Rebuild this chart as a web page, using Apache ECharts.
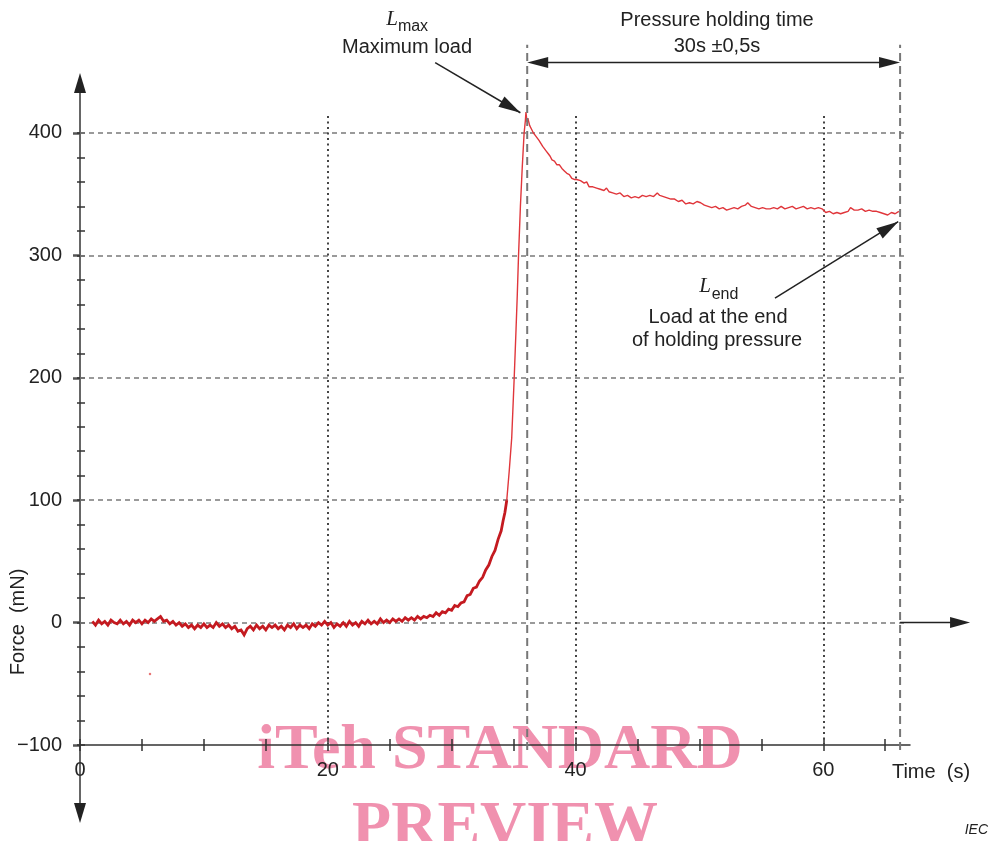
<!DOCTYPE html>
<html>
<head>
<meta charset="utf-8">
<script src="https://cdn.jsdelivr.net/npm/echarts@6/dist/echarts.min.js"></script>
<style>
html,body{margin:0;padding:0;background:#fff;}
#c{width:990px;height:841px;}
</style>
</head>
<body>
<div id="c"></div>
<script>
// ---- axis ticks / labels ----
const timeTicks = [0, 5, 10, 15, 20, 25, 30, 35, 40, 45, 50, 55, 60, 65];
const timeLabels = [0, 20, 40, 60];
const forceLabels = [-100, 0, 100, 200, 300, 400];
const forceMinorTicks = [-100, -80, -60, -40, -20, 0, 20, 40, 60, 80, 100, 120, 140, 160, 180, 200,
  220, 240, 260, 280, 300, 320, 340, 360, 380, 400];
const gridForce = [0, 100, 200, 300, 400];
const gridTime = [20, 40, 60];
const tMax = 36.1;   // time of maximum load
const tEnd = 66.2;   // end of holding time

// ---- measured force trace (time s, force mN) ----
const baselineTrace = [
  [1.00,1],[1.25,-2],[1.50,2],[1.75,-1],[2.00,1],[2.25,-2],[2.50,2],[2.75,0],[3.00,-1],[3.25,2],
  [3.50,-1],[3.75,1],[4.00,-2],[4.25,2],[4.50,0],[4.75,2],[5.00,-1],[5.25,2],[5.50,0],[5.75,3],
  [6.00,1],[6.25,3],[6.50,5],[6.75,1],[7.00,2],[7.25,-1],[7.50,1],[7.75,-2],[8.00,0],[8.25,-3],
  [8.50,-1],[8.75,-4],[9.00,-2],[9.25,-5],[9.50,-2],[9.75,-4],[10.00,-1],[10.25,-4],[10.50,-2],[10.75,-4],
  [11.00,0],[11.25,-3],[11.50,-1],[11.75,-4],[12.00,-2],[12.25,-5],[12.50,-3],[12.75,-7],[13.00,-6],[13.25,-10],
  [13.50,-5],[13.75,-3],[14.00,-6],[14.25,-2],[14.50,-5],[14.75,-3],[15.00,-6],[15.25,-2],[15.50,-4],[15.75,-2],
  [16.00,-5],[16.25,-3],[16.50,-6],[16.75,-2],[17.00,-4],[17.25,-1],[17.50,-5],[17.75,-2],[18.00,-4],[18.25,-2],
  [18.50,-5],[18.75,-1],[19.00,-3],[19.25,0],[19.50,-2],[19.75,1],[20.00,-2],[20.25,0],[20.50,-4],[20.75,-1],
  [21.00,-3],[21.25,0],[21.50,-3],[21.75,1],[22.00,-2],[22.25,0],[22.50,-3],[22.75,1],[23.00,-1],[23.25,2],
  [23.50,-1],[23.75,1],[24.00,-1],[24.25,3],[24.50,0],[24.75,2],[25.00,0],[25.25,3],[25.50,1],[25.75,3],
  [26.00,1],[26.25,4],[26.50,2],[26.75,4],[27.00,2],[27.25,5],[27.50,3],[27.75,5],[28.00,4],[28.25,6],
  [28.50,5],[28.75,8],[29.00,6],[29.25,9],[29.50,8],[29.75,11],[30.00,10],[30.25,14],[30.50,13],[30.75,16],
  [31.00,17],[31.25,22],[31.50,23],[31.75,28],[32.00,29],[32.25,34],[32.50,37],[32.75,43],[33.00,47],[33.25,54],
  [33.50,59],[33.75,68],[34.00,75],[34.15,83],[34.30,90],[34.45,100]
];
const loadingTrace = [
  [34.45,100],[34.65,124],[34.85,151],[35.05,200],[35.20,240],[35.30,268],[35.40,300],[35.55,340],[35.70,372],
  [35.85,400],[35.95,410],[36.00,417],[36.08,409],[36.15,412],[36.30,406],[36.45,403],[36.60,400],[36.75,398],
  [36.90,399],[37.05,394],[37.20,393],[37.35,389],[37.50,390],[37.65,385],[37.80,383],[37.95,381],[38.10,378],
  [38.30,377],[38.50,374],[38.70,374],[38.90,371],[39.10,369],[39.30,367],[39.50,366],[39.70,363],[39.90,362],
  [40.10,362],[40.40,361],[40.70,359],[40.90,360],[41.10,356],[41.40,356],[41.70,355],[42.00,354],[42.30,353],
  [42.50,355],[42.70,352],[43.00,351],[43.30,350],[43.60,351],[43.90,348],[44.20,349],[44.50,347],[44.80,348],
  [45.10,347],[45.40,349],[45.70,348],[46.00,349],[46.30,348],[46.60,351],[46.80,349],[47.10,348],[47.40,347],
  [47.70,346],[48.00,346],[48.30,344],[48.60,345],[48.90,342],[49.20,343],[49.50,342],[49.80,344],[50.10,343],
  [50.40,341],[50.70,340],[51.00,339],[51.30,340],[51.60,338],[51.90,339],[52.20,337],[52.50,338],[52.80,339],
  [53.10,338],[53.40,340],[53.70,341],[53.90,343],[54.20,340],[54.50,339],[54.80,338],[55.10,339],[55.40,338],
  [55.70,338],[56.00,339],[56.30,338],[56.60,340],[56.90,338],[57.20,339],[57.50,340],[57.80,338],[58.10,339],
  [58.40,340],[58.70,338],[59.00,339],[59.30,338],[59.60,339],[59.90,338],[60.20,335],[60.50,336],[60.80,334],
  [61.10,335],[61.40,334],[61.70,335],[62.00,336],[62.20,339],[62.50,337],[62.80,337],[63.10,338],[63.40,336],
  [63.70,337],[64.00,336],[64.30,336],[64.60,335],[64.90,334],[65.20,333],[65.50,335],[65.80,334],[66.10,336]
];
const strayPoint = [[5.65,-42]];

const FONT = '"Liberation Sans", Arial, sans-serif';
const INK = '#222';
const AX = '#333';

const hideAxisParts = { axisLine: {show:false, onZero:false}, axisLabel: {show:false}, splitLine: {show:false} };

const gridLines = [];
gridForce.forEach(v => gridLines.push([
  {coord:[0, v], lineStyle:{color:'#7a7a7a', width:1.6, type:[5,4]}},
  {coord:[66.6, v]}
]));
gridTime.forEach(t => gridLines.push([
  {coord:[t, -100], lineStyle:{color:'#444', width:2, type:[2,3.5]}},
  {coord:[t, 416]}
]));

const option = {
  animation: false,
  backgroundColor: '#fff',
  grid: { left: 80, right: 80, top: 84, bottom: 96 },
  xAxis: [
    {
      type: 'value', min: 0, max: 67, position: 'bottom',
      axisLine: { show: true, onZero: false, lineStyle: { color: AX, width: 1.5 } },
      axisTick: { show: true, inside: false, length: 6, customValues: timeTicks, lineStyle: { color: AX, width: 1.5 } },
      axisLabel: { show: true, customValues: timeLabels, margin: 15, color: INK, fontSize: 20, fontFamily: FONT },
      splitLine: { show: false }
    },
    Object.assign({
      type: 'value', min: 0, max: 67, position: 'bottom', offset: 0,
      axisTick: { show: true, inside: true, length: 6, customValues: timeTicks, lineStyle: { color: AX, width: 1.5 } }
    }, hideAxisParts)
  ],
  yAxis: [
    {
      type: 'value', min: -100, max: 440, position: 'left',
      axisLine: { show: true, onZero: false, lineStyle: { color: AX, width: 1.5 } },
      axisTick: { show: true, inside: false, length: 7, customValues: forceLabels, lineStyle: { color: '#555', width: 2.5 } },
      axisLabel: {
        show: true, customValues: forceLabels, margin: 18, color: INK, fontSize: 20, fontFamily: FONT,
        formatter: v => v < 0 ? '\u2212' + Math.abs(v) : String(v)
      },
      splitLine: { show: false }
    },
    Object.assign({
      type: 'value', min: -100, max: 440, position: 'left', offset: 0,
      axisTick: { show: true, inside: true, length: 5, customValues: forceMinorTicks, lineStyle: { color: AX, width: 1.5 } }
    }, hideAxisParts),
    Object.assign({
      type: 'value', min: -100, max: 440, position: 'left', offset: 0,
      axisTick: { show: true, inside: false, length: 3, customValues: forceMinorTicks, lineStyle: { color: AX, width: 1.5 } }
    }, hideAxisParts)
  ],
  series: [
    {
      type: 'line', data: [], silent: true, z: 1,
      markLine: { silent: true, symbol: ['none','none'], label: {show:false}, z: 1, animation: false, data: gridLines }
    },
    {
      type: 'line', data: baselineTrace, showSymbol: false, symbol: 'none', z: 3, silent: true,
      lineStyle: { color: '#c41a20', width: 2.8, join: 'miter' }
    },
    {
      type: 'line', data: loadingTrace, showSymbol: false, symbol: 'none', z: 3, silent: true,
      lineStyle: { color: '#e0363b', width: 1.4 }
    },
    {
      type: 'scatter', data: strayPoint, symbolSize: 2.5, z: 3, silent: true,
      itemStyle: { color: '#e25555' }
    }
  ]
};

const chart = echarts.init(document.getElementById('c'), null, { renderer: 'canvas' });
chart.setOption(option);

const P = (t, v) => chart.convertToPixel({ xAxisIndex: 0, yAxisIndex: 0 }, [t, v]);

function head(tip, from, len, hw, color) {
  const dx = tip[0] - from[0], dy = tip[1] - from[1];
  const d = Math.hypot(dx, dy), ux = dx / d, uy = dy / d;
  const bx = tip[0] - ux * len, by = tip[1] - uy * len;
  return { type: 'polygon', silent: true, z: 40,
    shape: { points: [[tip[0], tip[1]], [bx - uy * hw, by + ux * hw], [bx + uy * hw, by - ux * hw]] },
    style: { fill: color } };
}
function seg(a, b, style) {
  return { type: 'line', silent: true, z: 40, shape: { x1: a[0], y1: a[1], x2: b[0], y2: b[1] }, style: style };
}
function txt(text, x, y, font, extra) {
  return Object.assign({ type: 'text', x: x, y: y, silent: true, z: 45,
    style: { text: text, font: font, fill: INK, align: 'center', verticalAlign: 'middle' } }, extra || {});
}

const els = [];
const solid = { stroke: '#222', lineWidth: 1.5 };
const longDash = { stroke: '#777', lineWidth: 2, lineDash: [8, 5] };

// y axis: top arrow and downward extension
const yTop = P(0, 440), yBot = P(0, -100);
els.push(head([yTop[0], yTop[1] - 11], [yTop[0], yTop[1] + 20], 20, 6, '#222'));
els.push(seg(yBot, [yBot[0], yBot[1] + 60], { stroke: AX, lineWidth: 1.5 }));
els.push(head([yBot[0], yBot[1] + 78], [yBot[0], yBot[1]], 20, 6, '#222'));

// time arrow at zero force
const z0 = P(tEnd, 0);
els.push(seg(z0, [z0[0] + 52, z0[1]], solid));
els.push(head([z0[0] + 70, z0[1]], z0, 20, 5.5, '#222'));

// vertical long-dashed markers at Lmax and end of holding time
[tMax, tEnd].forEach(t => {
  const a = P(t, -104), b = P(t, 472);
  els.push(seg(a, b, longDash));
});

// holding time span arrow
const s1 = P(tMax, 457.5), s2 = P(tEnd, 457.5);
els.push(seg([s1[0] + 15, s1[1]], [s2[0] - 15, s2[1]], solid));
els.push(head(s1, s2, 21, 5.5, '#222'));
els.push(head(s2, s1, 21, 5.5, '#222'));

// Lmax leader
const m1 = P(28.67, 457.5), m2 = P(35.55, 416.5);
els.push(seg(m1, m2, solid));
els.push(head(m2, m1, 22, 6, '#222'));
// Lend leader
const e1 = P(56.1, 265), e2 = P(66.05, 327.5);
els.push(seg(e1, e2, solid));
els.push(head(e2, e1, 22, 6, '#222'));

// texts
els.push(txt('Pressure holding time', 717, 20, '20px ' + FONT));
els.push(txt('30s \u00b10,5s', 717, 46, '20px ' + FONT));
els.push(txt('L', 392, 19, 'italic 21px "Liberation Serif", serif'));
els.push(txt('max', 413, 27, '16px ' + FONT));
els.push(txt('Maximum load', 407, 47, '20px ' + FONT));
els.push(txt('L', 705, 286, 'italic 21px "Liberation Serif", serif'));
els.push(txt('end', 725, 295, '16px ' + FONT));
els.push(txt('Load at the end', 718, 317, '20px ' + FONT));
els.push(txt('of holding pressure', 717, 340, '20px ' + FONT));
els.push(txt('Force  (mN)', 18, 622, '20px ' + FONT, { rotation: Math.PI / 2 }));
els.push(txt('Time  (s)', 931, 772, '20px ' + FONT));
els.push(txt('IEC', 988, 830, 'italic 14px ' + FONT));
els[els.length - 1].style.align = 'right';

// watermark
els.push({ type: 'text', x: 500, y: 751, silent: true, z: -1,
  style: { text: 'iTeh STANDARD', font: 'bold 64px "Liberation Serif", serif', fill: '#ee85a6', opacity: 0.9, align: 'center', verticalAlign: 'middle' } });
els.push({ type: 'text', x: 505, y: 828, silent: true, z: -1,
  style: { text: 'PREVIEW', font: 'bold 64px "Liberation Serif", serif', fill: '#ee85a6', opacity: 0.9, align: 'center', verticalAlign: 'middle' } });

chart.setOption({ graphic: { elements: els } });
</script>
</body>
</html>
